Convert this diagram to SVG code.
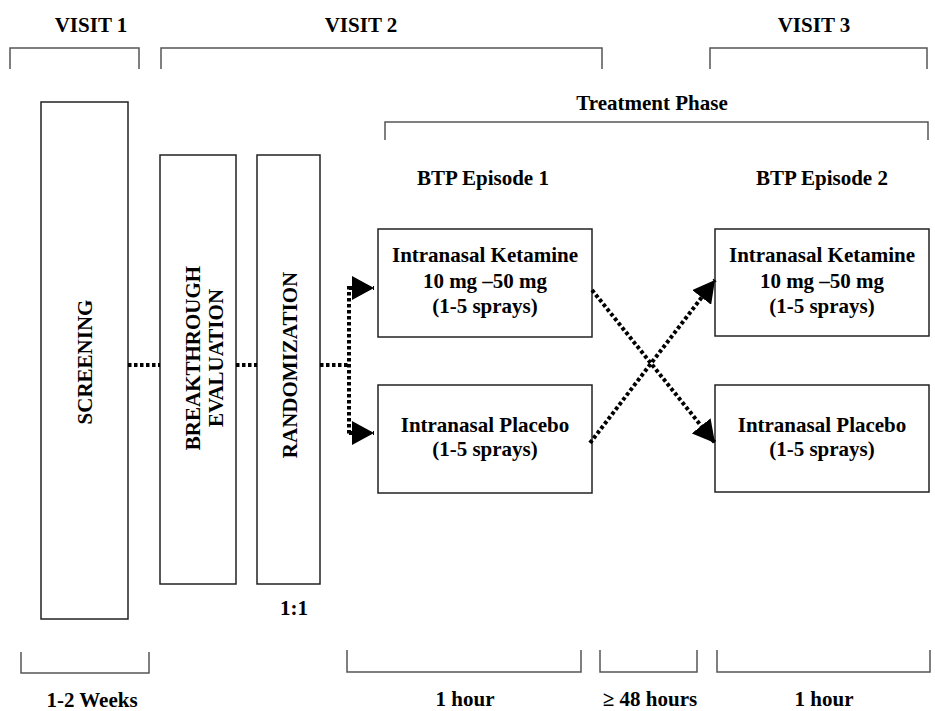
<svg xmlns="http://www.w3.org/2000/svg" width="935" height="711" viewBox="0 0 935 711">
<defs>
<style>
.t{font-family:"Liberation Serif","Times New Roman",serif;font-weight:bold;font-size:21px;fill:#000;text-anchor:middle}
.box{fill:#fff;stroke:#222;stroke-width:1.5}
.br{fill:none;stroke:#555;stroke-width:1.5}
.dot{fill:none;stroke:#000;stroke-width:4;stroke-dasharray:3.5 2.5}
</style>
<marker id="ah" markerUnits="userSpaceOnUse" viewBox="0 0 22 24" markerWidth="22" markerHeight="24" refX="22" refY="12" orient="auto">
<path d="M0,0 L22,12 L0,24 Z" fill="#000"/>
</marker>
</defs>
<rect width="935" height="711" fill="#fff"/>

<g id="visit-labels">
<text class="t" x="91" y="32">VISIT 1</text>
<text class="t" x="361" y="32">VISIT 2</text>
<text class="t" x="814" y="32">VISIT 3</text>
<path class="br" d="M10,69 V48 H139 V69"/>
<path class="br" d="M161,69 V48 H602 V69"/>
<path class="br" d="M710,69 V48 H927 V69"/>
</g>

<g id="treatment-phase">
<text class="t" x="652" y="110">Treatment Phase</text>
<path class="br" d="M385,140 V122 H928 V140"/>
<text class="t" x="483" y="185">BTP Episode 1</text>
<text class="t" x="822" y="185">BTP Episode 2</text>
</g>

<g id="screening">
<rect class="box" x="41" y="102" width="87" height="517"/>
<text class="t" transform="translate(92,362) rotate(-90)">SCREENING</text>
</g>

<g id="breakthrough">
<rect class="box" x="160" y="155" width="76" height="429"/>
<text class="t" transform="translate(200,358) rotate(-90)">BREAKTHROUGH</text>
<text class="t" transform="translate(223,358) rotate(-90)">EVALUATION</text>
</g>

<g id="randomization">
<rect class="box" x="257" y="155" width="63" height="429"/>
<text class="t" transform="translate(297,365) rotate(-90)">RANDOMIZATION</text>
<text class="t" x="294" y="615">1:1</text>
</g>

<g id="ketamine-1">
<rect class="box" x="378" y="229" width="214" height="108"/>
<text class="t" x="485" y="262">Intranasal Ketamine</text>
<text class="t" x="485" y="288">10 mg –50 mg</text>
<text class="t" x="485" y="313">(1-5 sprays)</text>
</g>

<g id="placebo-1">
<rect class="box" x="378" y="385" width="214" height="108"/>
<text class="t" x="485" y="432">Intranasal Placebo</text>
<text class="t" x="485" y="456">(1-5 sprays)</text>
</g>

<g id="ketamine-2">
<rect class="box" x="715" y="229" width="214" height="107"/>
<text class="t" x="822" y="262">Intranasal Ketamine</text>
<text class="t" x="822" y="288">10 mg –50 mg</text>
<text class="t" x="822" y="313">(1-5 sprays)</text>
</g>

<g id="placebo-2">
<rect class="box" x="715" y="385" width="214" height="107"/>
<text class="t" x="822" y="432">Intranasal Placebo</text>
<text class="t" x="822" y="456">(1-5 sprays)</text>
</g>

<g id="connectors">
<path class="dot" d="M128,365 H160"/>
<path class="dot" d="M236,365 H257"/>
<path class="dot" d="M320,365 H349"/>
<path class="dot" d="M349,286 V436"/>
<path class="dot" d="M349,288 H374" marker-end="url(#ah)"/>
<path class="dot" d="M349,433 H374" marker-end="url(#ah)"/>
<path class="dot" d="M592,290 L715,443" marker-end="url(#ah)"/>
<path class="dot" d="M590,443 L715,280" marker-end="url(#ah)"/>
</g>

<g id="durations">
<path class="br" d="M21,652 V673 H149 V652"/>
<path class="br" d="M347,650 V672 H581 V650"/>
<path class="br" d="M600,650 V672 H697 V650"/>
<path class="br" d="M717,650 V672 H930 V650"/>
<text class="t" x="92" y="707">1-2 Weeks</text>
<text class="t" x="465" y="706">1 hour</text>
<text class="t" x="650" y="706">≥ 48 hours</text>
<text class="t" x="824" y="706">1 hour</text>
</g>
</svg>
